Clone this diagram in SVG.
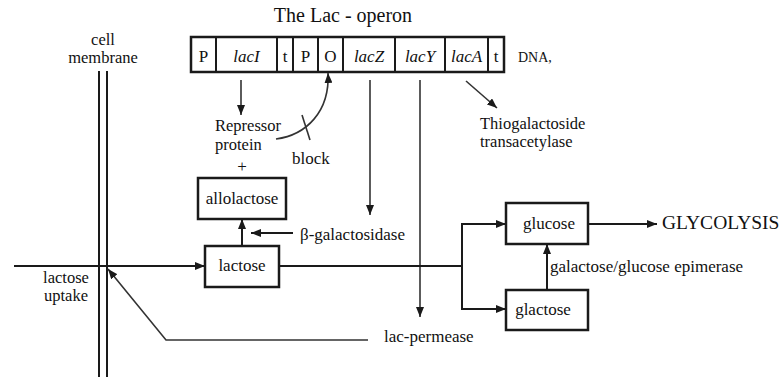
<svg xmlns="http://www.w3.org/2000/svg" width="781" height="377" viewBox="0 0 781 377" font-family="'Liberation Serif', 'DejaVu Serif', serif">
<style>
  text { font-family: "Liberation Serif", "DejaVu Serif", serif; font-size: 17px; fill: #111111; }
  .mid { text-anchor: middle; }
  .it { font-style: italic; }
  .two { font-size: 16.5px; }
  .title { font-size: 20px; }
  .box { fill: #ffffff; stroke: #1a1a1a; stroke-width: 2.5; }
  .ln { fill: none; stroke: #1a1a1a; stroke-width: 2; }
  .thin { fill: none; stroke: #333333; stroke-width: 1.6; }
</style>
<defs>
  <marker id="arr" viewBox="0 0 10 8" refX="10" refY="4" markerWidth="10" markerHeight="8" markerUnits="userSpaceOnUse" orient="auto">
    <path d="M0,0 L10,4 L0,8 z" fill="#1a1a1a"/>
  </marker>
</defs>
<rect width="781" height="377" fill="#ffffff"/>

<text class="mid title" x="343" y="22">The Lac - operon</text>

<g id="dna">
  <rect class="box" x="191" y="37" width="313" height="35"/>
  <path class="ln" stroke-width="2.5" d="M216,37V72 M277,37V72 M293,37V72 M318,37V72 M343,37V72 M395,37V72 M445,37V72 M488,37V72"/>
  <text class="mid" x="203.5" y="62">P</text>
  <text class="mid it" x="246.5" y="62">lacI</text>
  <text class="mid" x="285" y="62">t</text>
  <text class="mid" x="305.5" y="62">P</text>
  <text class="mid" x="330.5" y="62">O</text>
  <text class="mid it" x="369" y="62">lacZ</text>
  <text class="mid it" x="420" y="62">lacY</text>
  <text class="mid it" x="466.5" y="62">lacA</text>
  <text class="mid" x="496" y="62">t</text>
  <text x="518" y="62" style="font-size:14px">DNA,</text>
</g>

<g id="membrane">
  <path class="ln" d="M99,71V377 M107,71V377"/>
  <text class="mid two" x="103" y="45">cell</text>
  <text class="mid two" x="103" y="63">membrane</text>
</g>

<g id="repressor">
  <text class="two" x="215" y="131">Repressor</text>
  <text class="two" x="215" y="150">protein</text>
</g>
<g id="block-label"><text x="292" y="164">block</text></g>
<g id="plus"><text class="mid" x="242" y="172">+</text></g>

<g id="thiogalactoside">
  <text class="two" x="480" y="129">Thiogalactoside</text>
  <text class="two" x="480" y="147">transacetylase</text>
</g>

<g id="allolactose">
  <rect class="box" x="198" y="178" width="88" height="41"/>
  <text class="mid" x="242" y="204">allolactose</text>
</g>

<g id="lactose">
  <rect class="box" x="205" y="246" width="74" height="41"/>
  <text class="mid" x="242" y="271">lactose</text>
</g>

<g id="beta-gal"><text x="300" y="240">β-galactosidase</text></g>

<g id="uptake">
  <text class="mid two" x="66" y="283">lactose</text>
  <text class="mid two" x="66" y="301">uptake</text>
</g>

<g id="permease"><text x="384" y="342">lac-permease</text></g>

<g id="glucose">
  <rect class="box" x="506" y="203" width="82" height="41"/>
  <text class="mid" x="549" y="229">glucose</text>
</g>

<g id="glactose">
  <rect class="box" x="506" y="290" width="82" height="40"/>
  <text class="mid" x="543" y="315">glactose</text>
</g>

<g id="epimerase"><text x="550" y="272">galactose/glucose epimerase</text></g>

<g id="glycolysis"><text x="662" y="229" style="font-size:19.5px">GLYCOLYSIS</text></g>

<g id="connectors">
  <path class="thin" d="M241,80V115" marker-end="url(#arr)"/>
  <path class="thin" d="M276,139 C306,135 330,112 328,73" marker-end="url(#arr)"/>
  <path class="thin" d="M302,115 L310,140"/>
  <path class="thin" d="M370,80V215" marker-end="url(#arr)"/>
  <path class="thin" d="M420,80V317" marker-end="url(#arr)"/>
  <path class="thin" d="M466,81 L497,108" marker-end="url(#arr)"/>
  <path class="ln" d="M14,266H205" marker-end="url(#arr)"/>
  <path class="thin" d="M368,340H166L108,269" marker-end="url(#arr)"/>
  <path class="ln" d="M242,246V219" marker-end="url(#arr)"/>
  <path class="ln" d="M293,233H251" marker-end="url(#arr)"/>
  <path class="ln" d="M279,266H462"/>
  <path class="ln" d="M506,224H462V309H506" marker-end="url(#arr)"/>
  <path class="ln" d="M462,224H506" marker-end="url(#arr)"/>
  <path class="ln" d="M547,290V244" marker-end="url(#arr)"/>
  <path class="ln" d="M588,224H657" marker-end="url(#arr)"/>
</g>
</svg>
